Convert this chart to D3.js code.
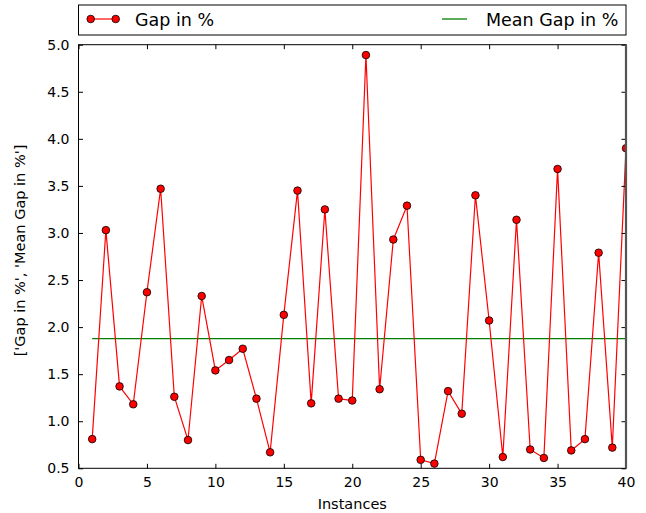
<!DOCTYPE html>
<html><head><meta charset="utf-8">
<script src="https://cdn.jsdelivr.net/npm/d3@7"></script>
<style>body{margin:0;background:#fff;} svg{display:block;font-family:"DejaVu Sans",sans-serif;}</style>
</head><body><svg id="c" width="646" height="513"></svg>
<script>
const instances = d3.range(1, 41);
const gapValues = [0.81,3.03,1.37,1.18,2.37,3.47,1.26,0.80,2.33,1.54,1.65,1.77,1.24,0.67,2.13,3.45,1.19,3.25,1.24,1.22,4.89,1.34,2.93,3.29,0.59,0.55,1.32,1.08,3.40,2.07,0.62,3.14,0.70,0.61,3.68,0.69,0.81,2.79,0.72,3.90];
const meanGap = [1.877];
const xTicks = [0,5,10,15,20,25,30,35,40];
const yTicks = [0.5,1.0,1.5,2.0,2.5,3.0,3.5,4.0,4.5,5.0];
const seriesNames = ["Gap in %", "Mean Gap in %"];

const svg = d3.select("#c");
const L = 78.5, R = 626, T = 44.7, B = 468.3;
const x = d3.scaleLinear().domain([0,40]).range([L,R]);
const y = d3.scaleLinear().domain([0.5,5.0]).range([B,T]);

svg.append("defs").append("clipPath").attr("id","clip")
  .append("rect").attr("x",L).attr("y",T).attr("width",R-L).attr("height",B-T);

const plot = svg.append("g").attr("clip-path","url(#clip)");
// mean line
plot.append("line").attr("x1",x(1)).attr("x2",x(40)).attr("y1",y(meanGap[0])).attr("y2",y(meanGap[0]))
  .attr("stroke","#008000").attr("stroke-width",1.3);
// gap line
plot.append("path").datum(instances.map((d,i)=>[d,gapValues[i]]))
  .attr("d", d3.line().x(d=>x(d[0])).y(d=>y(d[1])))
  .attr("fill","none").attr("stroke","#ff0000").attr("stroke-width",1.2);
plot.selectAll("circle.pt").data(instances.map((d,i)=>[d,gapValues[i]])).join("circle")
  .attr("class","pt").attr("cx",d=>x(d[0])).attr("cy",d=>y(d[1])).attr("r",3.8)
  .attr("fill","#ff0000").attr("stroke","#000").attr("stroke-width",0.8);

// axes
const tl = 4.5;
const xb = d3.axisBottom(x).tickValues(xTicks).tickFormat(d3.format("d")).tickSizeInner(-tl).tickSizeOuter(0).tickPadding(9);
const xt = d3.axisTop(x).tickValues(xTicks).tickFormat("").tickSizeInner(-tl).tickSizeOuter(0);
const yl = d3.axisLeft(y).tickValues(yTicks).tickFormat(d3.format(".1f")).tickSizeInner(-tl).tickSizeOuter(0).tickPadding(9);
const yr = d3.axisRight(y).tickValues(yTicks).tickFormat("").tickSizeInner(-tl).tickSizeOuter(0);
function style(g){ g.select(".domain").remove(); g.selectAll("line").attr("stroke","#000");
  g.selectAll("text").attr("fill","#000").style("font-family","DejaVu Sans").style("font-size","14px"); }
svg.append("g").attr("transform",`translate(0,${B})`).call(xb).call(style);
svg.append("g").attr("transform",`translate(0,${T})`).call(xt).call(style);
svg.append("g").attr("transform",`translate(${L},0)`).call(yl).call(style);
svg.append("g").attr("transform",`translate(${R},0)`).call(yr).call(style);

svg.append("rect").attr("x",L).attr("y",T).attr("width",R-L).attr("height",B-T)
  .attr("fill","none").attr("stroke","#000").attr("stroke-width",1);
svg.append("line").attr("x1",R).attr("x2",R).attr("y1",T).attr("y2",B).attr("stroke","#555").attr("stroke-width",2.2);

// labels
svg.append("text").attr("x",(L+R)/2).attr("y",509).attr("text-anchor","middle")
  .style("font-size","14.5px").text("Instances");
svg.append("text").attr("transform",`translate(25,${(T+B)/2 - 6}) rotate(-90)`).attr("text-anchor","middle")
  .style("font-size","14.5px").text("['" + seriesNames[0] + "', '" + seriesNames[1] + "']");

// legend
const lg = svg.append("g");
lg.append("rect").attr("x",L).attr("y",5).attr("width",R-L).attr("height",30)
  .attr("fill","#fff").attr("stroke","#000").attr("stroke-width",1);
lg.append("line").attr("x1",90.7).attr("x2",115.7).attr("y1",19).attr("y2",19).attr("stroke","#ff0000").attr("stroke-width",1.2);
[90.7,115.7].forEach(cx=>lg.append("circle").attr("cx",cx).attr("cy",19).attr("r",3.8)
  .attr("fill","#ff0000").attr("stroke","#000").attr("stroke-width",0.8));
lg.append("text").attr("x",135).attr("y",26).style("font-size","17.5px").text(seriesNames[0]);
lg.append("line").attr("x1",442).attr("x2",467).attr("y1",19).attr("y2",19).attr("stroke","#008000").attr("stroke-width",1.3);
lg.append("text").attr("x",486).attr("y",26).style("font-size","17.5px").text(seriesNames[1]);
</script></body></html>
